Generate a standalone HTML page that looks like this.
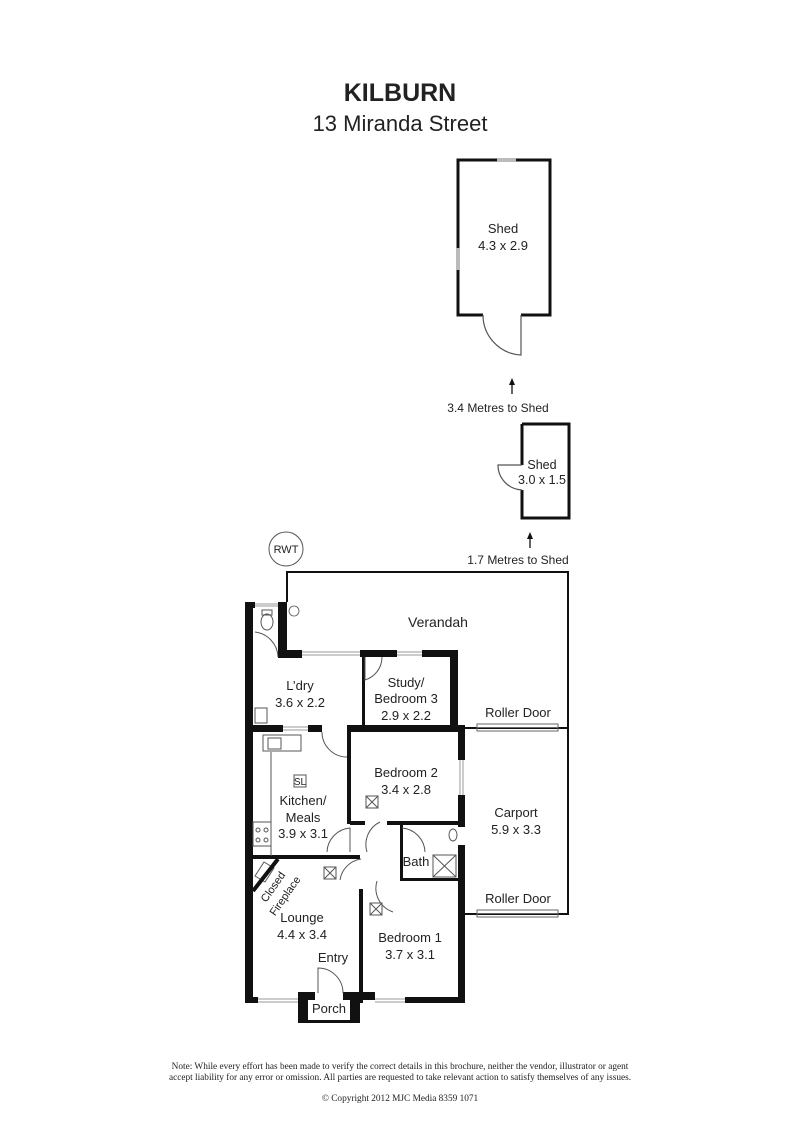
<!DOCTYPE html>
<html><head><meta charset="utf-8"><style>
body{margin:0;background:#fff}
svg{display:block}
text{font-family:"Liberation Sans",sans-serif;fill:#222}
</style></head><body>
<svg width="800" height="1131" viewBox="0 0 800 1131" xmlns="http://www.w3.org/2000/svg">
<text x="400" y="101" text-anchor="middle" font-size="25" font-weight="bold" fill="#111">KILBURN</text>
<text x="400" y="131" text-anchor="middle" font-size="22">13 Miranda Street</text>

<g fill="none" stroke="#111" stroke-width="3">
<path d="M483 315 H458 V160 H550 V315 H521"/>
<path d="M522 424 H569 V518 H522 V490 M522 465 V424"/>
</g>
<rect x="497" y="158" width="19" height="4" fill="#bbb"/>
<rect x="456" y="248" width="4" height="22" fill="#bbb"/>
<path d="M521 315 V355 A40 40 0 0 1 483 315" fill="none" stroke="#555" stroke-width="1.2"/>
<text x="503" y="233" text-anchor="middle" font-size="13">Shed</text>
<text x="503" y="250" text-anchor="middle" font-size="13">4.3 x 2.9</text>
<path d="M512 380 V394" stroke="#111" stroke-width="1.3"/><path d="M509 385 L512 378 L515 385" fill="#111"/>
<text x="498" y="412" text-anchor="middle" font-size="12">3.4 Metres to Shed</text>
<path d="M522 465 H498 A25 25 0 0 0 522 490" fill="none" stroke="#555" stroke-width="1.2"/>
<text x="542" y="469" text-anchor="middle" font-size="12.5">Shed</text>
<text x="542" y="484" text-anchor="middle" font-size="12.5">3.0 x 1.5</text>
<path d="M530 534 V548" stroke="#111" stroke-width="1.3"/><path d="M527 539 L530 532 L533 539" fill="#111"/>
<text x="518" y="564" text-anchor="middle" font-size="12">1.7 Metres to Shed</text>

<circle cx="286" cy="549" r="17" fill="none" stroke="#555" stroke-width="1"/>
<text x="286" y="553" text-anchor="middle" font-size="11">RWT</text>

<g fill="none" stroke="#111" stroke-width="2">
<path d="M287 602 V572 H568 V914 H465"/>
<path d="M465 728 H568"/>
</g>
<g fill="none" stroke="#666" stroke-width="1">
<rect x="477" y="724" width="81" height="7"/><path d="M477 727.5 H558"/>
<rect x="477" y="910" width="81" height="7"/><path d="M477 913.5 H558"/>
</g>
<text x="518" y="717" text-anchor="middle" font-size="13">Roller Door</text>
<text x="518" y="903" text-anchor="middle" font-size="13">Roller Door</text>
<text x="438" y="627" text-anchor="middle" font-size="14">Verandah</text>
<circle cx="294" cy="611" r="5" fill="none" stroke="#555" stroke-width="0.8"/>

<g fill="#111">
<rect x="245" y="602" width="8" height="401"/>
<rect x="245" y="602" width="10" height="6"/>
<rect x="278" y="602" width="9" height="56"/>
<rect x="278" y="650" width="24" height="8"/>
<rect x="360" y="650" width="37" height="7"/>
<rect x="422" y="650" width="36" height="7"/>
<rect x="450" y="650" width="8" height="82"/>
<rect x="362" y="657" width="3" height="70"/>
<rect x="245" y="725" width="38" height="7"/>
<rect x="308" y="725" width="14" height="7"/>
<rect x="347" y="725" width="118" height="7"/>
<rect x="458" y="725" width="7" height="35"/>
<rect x="458" y="795" width="7" height="32"/>
<rect x="458" y="845" width="7" height="158"/>
<rect x="347" y="732" width="4" height="92"/>
<rect x="350" y="821" width="15" height="4"/>
<rect x="387" y="821" width="71" height="4"/>
<rect x="253" y="855" width="107" height="4"/>
<rect x="400" y="824" width="3" height="56"/>
<rect x="400" y="878" width="58" height="3"/>
<rect x="359" y="889" width="4" height="114"/>
<rect x="245" y="997" width="13" height="6"/>
<rect x="298" y="992" width="10" height="31"/>
<rect x="350" y="992" width="10" height="31"/>
<rect x="298" y="992" width="17" height="8"/>
<rect x="343" y="992" width="32" height="8"/>
<rect x="405" y="997" width="60" height="6"/>
<rect x="298" y="1020" width="62" height="3"/>
</g>
<g fill="none" stroke="#999" stroke-width="1">
<path d="M255 604 H278 M255 606 H278"/>
<path d="M302 652 H360 M302 655 H360"/>
<path d="M397 652 H422 M397 655 H422"/>
<path d="M283 727 H308 M283 730 H308"/>
<path d="M460 760 V795 M463 760 V795"/>
<path d="M258 999 H298 M258 1002 H298"/>
<path d="M375 999 H405 M375 1002 H405"/>
</g>
<g fill="none" stroke="#555" stroke-width="1">
<path d="M255 632 A26 26 0 0 1 278 657"/>
<path d="M365 657 V680 A24 24 0 0 0 382 657"/>
<path d="M322 732 A25 25 0 0 0 347 757"/>
<path d="M327 852 A25 25 0 0 1 350 828 V852"/>
<path d="M380 822 A25 25 0 0 0 367 852"/>
<path d="M402 828 A25 25 0 0 1 425 852"/>
<path d="M340 880 A25 25 0 0 1 361 859"/>
<path d="M377 881 A25 25 0 0 0 393 912"/>
<path d="M318 993 V968 A25 25 0 0 1 343 993"/>
<ellipse cx="267" cy="622" rx="6" ry="8"/>
<rect x="262" y="610" width="10" height="5"/>
<rect x="255" y="708" width="12" height="15"/>
<rect x="263" y="735" width="38" height="16"/><rect x="268" y="738" width="13" height="11"/>
<path d="M271 752 V856"/>
<rect x="253" y="822" width="18" height="24"/>
<circle cx="258" cy="830" r="2"/><circle cx="266" cy="830" r="2"/><circle cx="258" cy="840" r="2"/><circle cx="266" cy="840" r="2"/>
<rect x="294" y="775" width="12" height="12"/>
<ellipse cx="453" cy="835" rx="4" ry="6"/>
<rect x="433" y="855" width="23" height="22"/><path d="M433 855 L456 877 M456 855 L433 877"/>
<rect x="366" y="796" width="12" height="12"/><path d="M366 796 L378 808 M378 796 L366 808"/>
<rect x="324" y="867" width="12" height="12"/><path d="M324 867 L336 879 M336 867 L324 879"/>
<rect x="370" y="903" width="12" height="12"/><path d="M370 903 L382 915 M382 903 L370 915"/>
<path d="M255 876 L264 862 L274 868 L265 882 Z"/>
</g>
<path d="M253 891 L278 859" stroke="#111" stroke-width="4"/>

<g font-size="13" text-anchor="middle">
<text x="300" y="690">L’dry</text><text x="300" y="707">3.6 x 2.2</text>
<text x="406" y="687">Study/</text><text x="406" y="703">Bedroom 3</text><text x="406" y="720">2.9 x 2.2</text>
<text x="406" y="777">Bedroom 2</text><text x="406" y="794">3.4 x 2.8</text>
<text x="300" y="785" font-size="10">SL</text>
<text x="303" y="805">Kitchen/</text><text x="303" y="822">Meals</text><text x="303" y="838">3.9 x 3.1</text>
<text x="516" y="817">Carport</text><text x="516" y="834">5.9 x 3.3</text>
<text x="416" y="866">Bath</text>
<text x="302" y="922">Lounge</text><text x="302" y="939">4.4 x 3.4</text>
<text x="333" y="962">Entry</text>
<text x="410" y="942">Bedroom 1</text><text x="410" y="959">3.7 x 3.1</text>
<text x="329" y="1013">Porch</text>
</g>
<text transform="translate(276,889) rotate(-55)" font-size="11" text-anchor="middle">Closed</text>
<text transform="translate(288,898) rotate(-55)" font-size="11" text-anchor="middle">Fireplace</text>

<g font-size="9.3" text-anchor="middle">
<text x="400" y="1069" style="font-family:'Liberation Serif',serif">Note:  While every effort has been made to verify the correct details in this brochure, neither the vendor, illustrator or agent</text>
<text x="400" y="1080" style="font-family:'Liberation Serif',serif">accept liability for any error or omission.  All parties are requested to take relevant  action to satisfy themselves of any issues.</text>
<text x="400" y="1101" style="font-family:'Liberation Serif',serif">© Copyright 2012 MJC Media 8359 1071</text>
</g>
</svg>
</body></html>
